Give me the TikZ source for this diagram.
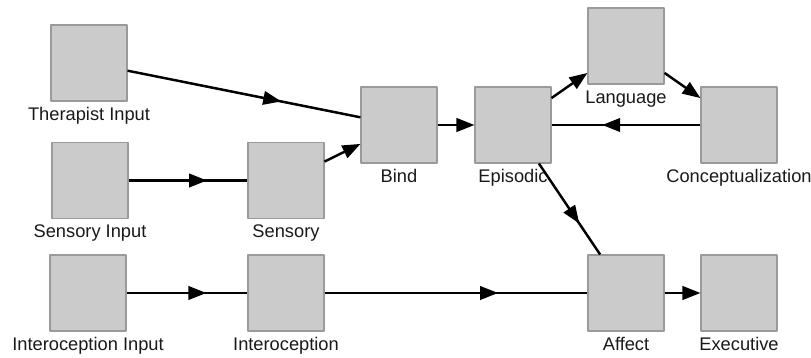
\documentclass[tikz,border=0pt]{standalone}
\usepackage{fontspec}
\setmainfont{Liberation Sans}
\usepackage{tikz}
\usetikzlibrary{arrows.meta,decorations.markings}
\definecolor{boxfill}{HTML}{CBCBCB}
\definecolor{boxline}{HTML}{9A9A9A}
\tikzset{
every picture/.style={line cap=round,line join=round},
>={Triangle[length=3.6mm,width=2.7mm]},
stage/.style={
  draw=boxline,
  fill=boxfill,
  line width=0.6pt,
  minimum size=1.52cm,
  inner sep=0pt,
  label distance=3.5pt
},
stage label/.style={font=\fontsize{10.4}{12}\selectfont, text=black!90},
flow/.style={draw=black, ->, line width=1.4pt, line cap=butt},
mid flow/.style={
  draw=black,
  line width=1.4pt,
  line cap=butt,
  postaction={decorate},
  decoration={markings, mark=at position 0.66 with {\arrow{>}}}
}
}
\begin{document}
\begin{tikzpicture}
\useasboundingbox (0,0) rectangle (16.22,7.16);
% inputs
\node[stage, label={[stage label]below:Therapist Input}] (therapist) at (1.78,5.90) {};
\node[stage, label={[stage label]below:Sensory Input}] (sensoryin) at (1.80,3.55) {};
\node[stage, label={[stage label]below:Interoception Input}] (interoin) at (1.76,1.30) {};
% processing stages
\node[stage, label={[stage label]below:Sensory}] (sensory) at (5.72,3.55) {};
\node[stage, label={[stage label]below:Interoception}] (intero) at (5.72,1.30) {};
\node[stage, label={[stage label]below:Bind}] (bind) at (7.98,4.66) {};
\node[stage, label={[stage label]below:Episodic}] (episodic) at (10.26,4.66) {};
\node[stage, label={[stage label]below:Language}] (language) at (12.52,6.24) {};
\node[stage, label={[stage label]below:Conceptualization}] (concept) at (14.78,4.66) {};
\node[stage, label={[stage label]below:Affect}] (affect) at (12.52,1.30) {};
\node[stage, label={[stage label]below:Executive}] (executive) at (14.78,1.30) {};
% connections
\draw[mid flow] (therapist) -- (bind);
\draw[mid flow] (sensoryin) -- (sensory);
\draw[mid flow] (interoin) -- (intero);
\draw[flow] (sensory) -- (bind);
\draw[flow] (bind) -- (episodic);
\draw[flow] (episodic) -- (language);
\draw[flow] (language) -- (concept);
\draw[mid flow] (concept) -- (episodic);
\draw[mid flow] (episodic) -- (affect);
\draw[mid flow] (intero) -- (affect);
\draw[flow] (affect) -- (executive);
\end{tikzpicture}
\end{document}
